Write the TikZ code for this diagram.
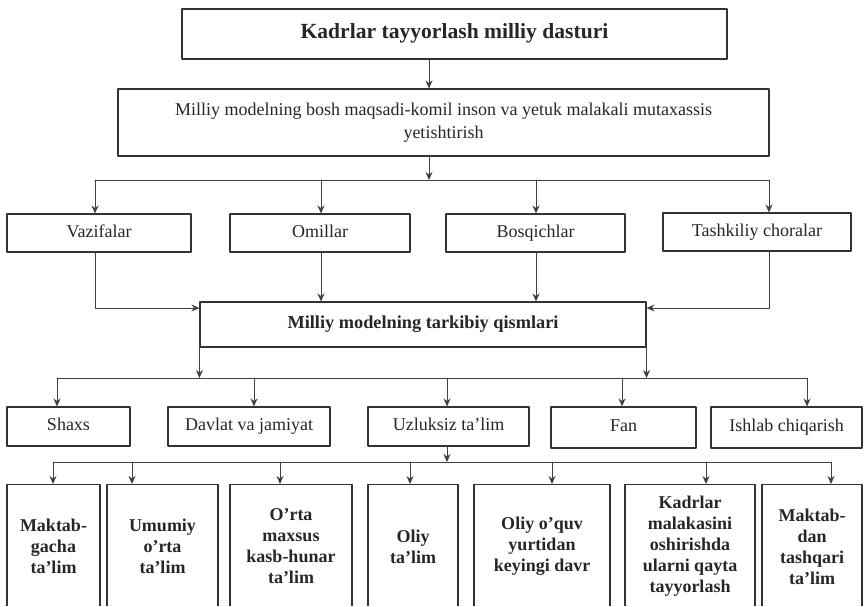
\documentclass[tikz,border=0pt]{standalone}
\usepackage{fontspec}
\setmainfont{Liberation Serif}
\usetikzlibrary{arrows.meta}

\begin{document}
\begin{tikzpicture}[x=1pt, y=-1pt, line cap=round, line join=round, >={Stealth[length=8pt,width=7pt]}, font=\fontsize{18}{23}\selectfont,
	box/.style={draw=black!80, line width=1.1pt, inner sep=2pt, align=center, text=black!85},
	one/.style={box, text height=12pt, text depth=4pt},
	link/.style={draw=black!75, line width=1pt},
	low/.style={box, anchor=north, minimum height=124pt, font=\fontsize{18}{21}\selectfont\bfseries}]
			\useasboundingbox (0,0) rectangle (864,606);
			\clip (0,0) rectangle (864,605);
			\node[one, minimum width=545pt, minimum height=50pt, font=\fontsize{21.6}{26}\selectfont\bfseries] (top) at (454.5,34) {Kadrlar tayyorlash milliy dasturi};
			\node[box, minimum width=651pt, minimum height=67pt] (goal) at (443.5,122.5) {Milliy modelning bosh maqsadi-komil inson va yetuk malakali mutaxassis\\yetishtirish};
			\node[one, minimum width=184pt, minimum height=38pt] (vaz) at (99,233) {Vazifalar};
			\node[one, minimum width=180pt, minimum height=38pt] (omil) at (320,233) {Omillar};
			\node[one, minimum width=179pt, minimum height=38pt] (bosq) at (535.5,233) {Bosqichlar};
			\node[one, minimum width=188pt, minimum height=38pt] (tash) at (757,232) {Tashkiliy choralar};
			\node[one, minimum width=446pt, minimum height=45pt, font=\fontsize{18.3}{22}\selectfont\bfseries] (qism) at (423,324.5) {Milliy modelning tarkibiy qismlari};
			\node[one, minimum width=123pt, minimum height=39pt] (shaxs) at (68.5,426.5) {Shaxs};
			\node[one, minimum width=162pt, minimum height=39pt] (davlat) at (249,426.5) {Davlat va jamiyat};
			\node[one, minimum width=161pt, minimum height=39pt] (uzl) at (448.5,426.5) {Uzluksiz ta'lim};
			\node[one, minimum width=145pt, minimum height=41pt] (fan) at (623.5,427.5) {Fan};
			\node[one, minimum width=151pt, minimum height=41pt] (ishlab) at (786.5,427.5) {Ishlab chiqarish};
			\node[low, minimum width=93pt] (mg) at (53.5,484) {Maktab-\\gacha\\ta'lim};
			\node[low, minimum width=111pt] (um) at (162.5,484) {Umumiy\\o'rta\\ta'lim};
			\node[low, minimum width=122pt] (orta) at (291,484) {O'rta\\maxsus\\kasb-hunar\\ta'lim};
			\node[low, minimum width=90pt] (oliy) at (413,484) {Oliy\\ta'lim};
			\node[low, minimum width=136pt] (oqv) at (542,484) {Oliy o'quv\\yurtidan\\keyingi davr};
			\node[low, minimum width=130pt] (kadr) at (690,484) {Kadrlar\\malakasini\\oshirishda\\ularni qayta\\tayyorlash};
			\node[low, minimum width=100pt] (mdan) at (812,484) {Maktab-\\dan\\tashqari\\ta'lim};
			\coordinate (t0) at (429,180);
			\coordinate (v1) at (95,180);
			\coordinate (v2) at (321,180);
			\coordinate (v3) at (536,180);
			\coordinate (v4) at (769,180);
			\coordinate (m1) at (0,308);
			\coordinate (w1) at (57,378);
			\coordinate (w2) at (254,378);
			\coordinate (w3) at (447,378);
			\coordinate (w4) at (622,378);
			\coordinate (w5) at (807,378);
			\coordinate (u1) at (53,462);
			\coordinate (u2) at (132,462);
			\coordinate (u3) at (280,462);
			\coordinate (u4) at (410,462);
			\coordinate (u5) at (552,462);
			\coordinate (u6) at (706,462);
			\coordinate (u7) at (831,462);
			\draw[link,->] (top.south -| t0) -- (goal.north -| t0);
			\draw[link,->] (goal.south -| t0) -- (t0);
			\draw[link] (v1) -- (v4);
			\draw[link,->] (v1) -- (v1 |- vaz.north);
			\draw[link,->] (v2) -- (v2 |- omil.north);
			\draw[link,->] (v3) -- (v3 |- bosq.north);
			\draw[link,->] (v4) -- (v4 |- tash.north);
			\draw[link,->] (vaz.south -| v1) |- (m1 -| qism.west);
			\draw[link,->] (omil.south -| v2) -- (qism.north -| v2);
			\draw[link,->] (bosq.south -| v3) -- (qism.north -| v3);
			\draw[link,->] (tash.south -| v4) |- (m1 -| qism.east);
			\draw[link,->] (qism.south west) -- (qism.south west |- w1);
			\draw[link,->] (qism.south east) -- (qism.south east |- w1);
			\draw[link] (w1) -- (w5);
			\draw[link,->] (w1) -- (w1 |- shaxs.north);
			\draw[link,->] (w2) -- (w2 |- davlat.north);
			\draw[link,->] (w3) -- (w3 |- uzl.north);
			\draw[link,->] (w4) -- (w4 |- fan.north);
			\draw[link,->] (w5) -- (w5 |- ishlab.north);
			\draw[link,->] (uzl.south -| w3) -- (w3 |- u1);
			\draw[link] (u1) -- (u7);
			\draw[link,->] (u1) -- (u1 |- mg.north);
			\draw[link,->] (u2) -- (u2 |- um.north);
			\draw[link,->] (u3) -- (u3 |- orta.north);
			\draw[link,->] (u4) -- (u4 |- oliy.north);
			\draw[link,->] (u5) -- (u5 |- oqv.north);
			\draw[link,->] (u6) -- (u6 |- kadr.north);
			\draw[link,->] (u7) -- (u7 |- mdan.north);
		\end{tikzpicture}
\end{document}
